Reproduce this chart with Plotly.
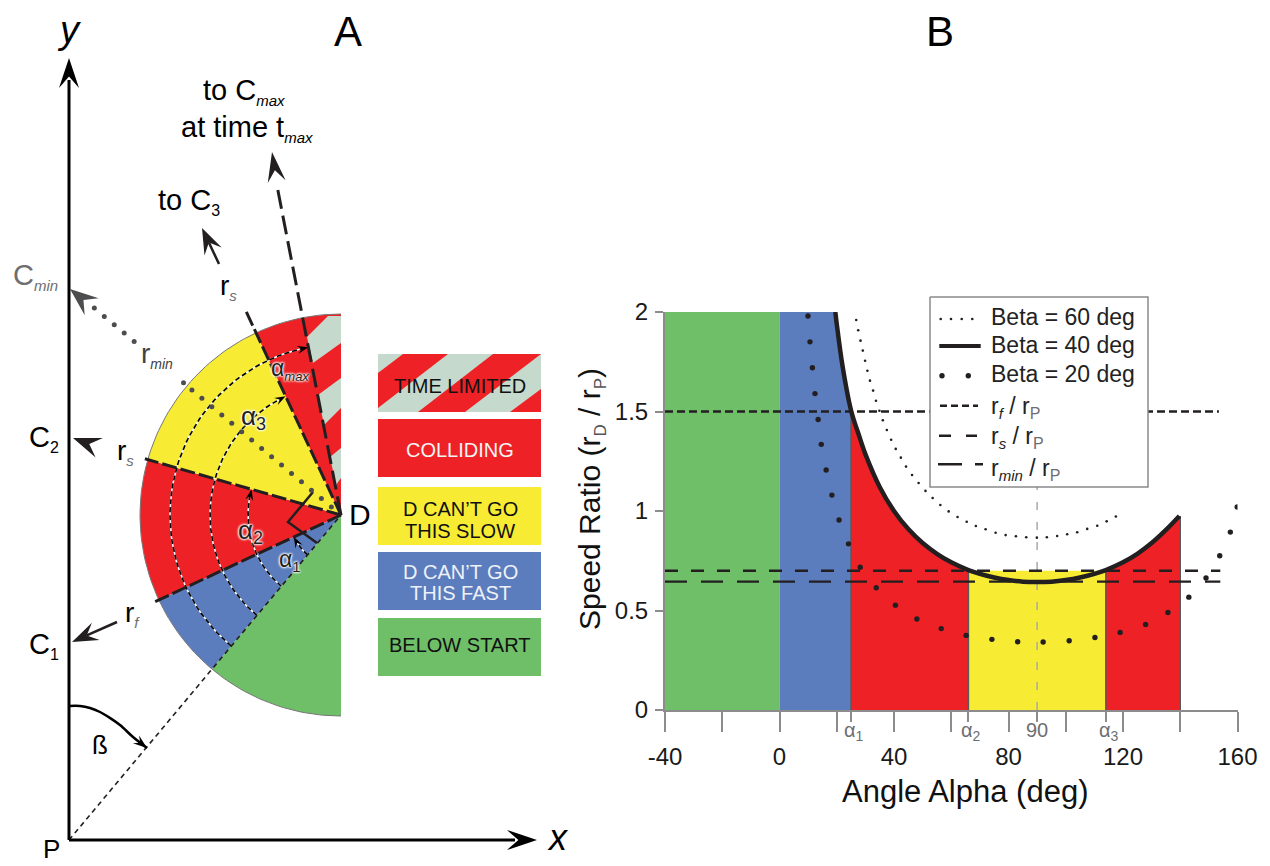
import numpy as np
import plotly.graph_objects as go

# ---------- Panel B data ----------
alpha_beta40 = [19.5, 20, 22, 25, 28, 30, 35, 40, 45, 50, 55, 60, 66, 70, 75, 80, 85, 90,
                95, 100, 105, 110, 114, 120, 125, 130, 135, 139.7]
ratio_beta40 = [2.0, 1.94, 1.73, 1.505, 1.37, 1.286, 1.121, 1.0, 0.909, 0.839, 0.785, 0.742, 0.703, 0.684,
                0.666, 0.653, 0.645, 0.643, 0.645, 0.653, 0.666, 0.684, 0.703, 0.742, 0.785, 0.839, 0.905, 0.975]
alpha_beta60 = [26.8, 27.5, 28.3, 29.1, 29.9, 30.7, 31.6, 32.7, 33.7, 34.9, 36.1, 37.5, 39.0, 40.6, 42.4, 44.2,
                46.3, 48.6, 51.0, 53.5, 56.2, 59.1, 62.2, 65.4, 68.6, 72.0, 75.5, 79.0, 82.6, 86.2, 89.9, 93.4,
                97.0, 100.5, 104.0, 107.5, 111.0, 114.3, 117.5]
ratio_beta60 = [1.96, 1.908, 1.856, 1.806, 1.755, 1.705, 1.655, 1.605, 1.554, 1.504, 1.456, 1.407, 1.358, 1.312,
                1.268, 1.223, 1.181, 1.141, 1.101, 1.065, 1.03, 0.998, 0.97, 0.946, 0.925, 0.908, 0.891, 0.879,
                0.873, 0.868, 0.866, 0.868, 0.874, 0.883, 0.893, 0.91, 0.926, 0.948, 0.972]
alpha_beta20 = [9.95, 10.65, 11.5, 12.4, 13.5, 14.6, 16.3, 18.3, 20.8, 24.1, 28.2, 33.8, 40.5, 48, 56.5, 65.2,
                74.2, 83.2, 92.1, 101.2, 110.2, 119, 127.9, 135.7, 143, 149, 153.8, 157.5, 159.9]
ratio_beta20 = [1.98, 1.85, 1.72, 1.59, 1.46, 1.335, 1.206, 1.08, 0.955, 0.835, 0.717, 0.614, 0.527, 0.457, 0.409,
                0.375, 0.355, 0.343, 0.342, 0.348, 0.364, 0.39, 0.43, 0.49, 0.567, 0.663, 0.775, 0.894, 1.02]
ALPHA_BELOW, ALPHA_ZERO, ALPHA1, ALPHA2, ALPHA3, ALPHA_END = -40, 0, 25, 66, 114, 140
RF, RS, RMIN = 1.5, 0.7, 0.645
x_major_ticks = [-40, -20, 0, 20, 40, 60, 80, 100, 120, 140, 160]
x_major_text = ["-40", " ", "0", " ", "40", " ", "80", " ", "120", " ", "160"]
x_minor_ticks = [25, 66, 90, 114]
y_ticks = [0, 0.5, 1, 1.5, 2]
y_text = ["0", "0.5", "1", "1.5", "2"]

# ---------- Panel A geometry (pixel space of the diagram) ----------
P = (69, 840)
D = (341, 515)
R = 201
BETA = 40
alpha_edges = [-40, 0, 25, 66, 115, 140]     # bearing = 220 + alpha
arc_radii = [52, 93, 131, 171]
arc_end_alpha = [25, 66, 115, 129]
rmin_near = [12.6, 25.6, 38.6, 51.6, 64.6, 77.6, 90.6, 103.6, 116.6, 129.6, 142.6, 155.6, 168.6, 181.6, 194.6, 205.6]
rmin_far = [270, 283, 296, 309, 322]
stripe_1 = ([307, 328, 341, 341, 313], [337, 316, 316, 343, 363])
stripe_2 = ([318, 341, 341, 324], [395, 378, 408, 425])
stripe_3 = ([330, 341, 341, 336], [457, 448, 478, 485])
beta_arc_x = [69, 80, 90, 100, 110, 120, 133, 147]
beta_arc_y = [706, 706, 708, 712, 718, 725, 737, 748]
key_boxes_y = [(354, 412), (419, 477), (487, 545), (552, 610), (618, 676)]
key_x = (378, 541)
key_stripes = [([378, 403, 448, 378], [373, 354, 354, 408]),
               ([418, 493, 541, 465], [412, 354, 354, 412]),
               ([510, 541, 541], [412, 389, 412])]

RED, YELLOW, BLUE, GREEN, PALE = "#EE2226", "#F7EC33", "#5B7DBD", "#6FBE68", "#C5D9CC"
INK, GREY, TICK = "#231F20", "#6D6E71", "#8C8C8C"
FONT = "Liberation Sans"

fig = go.Figure()


def bearing_xy(bearing, r):
    b = np.radians(bearing)
    return D[0] + r * np.sin(b), D[1] - r * np.cos(b)


def alpha_xy(alpha, r):
    return bearing_xy(180 + BETA + alpha, r)


def add(xs, ys, axis="A", **kw):
    ax = {"A": ("x", "y"), "B": ("x2", "y2"), "K": ("x3", "y3")}[axis]
    kw.setdefault("mode", "lines")
    fig.add_trace(go.Scatter(x=list(xs), y=list(ys), xaxis=ax[0], yaxis=ax[1],
                             hoverinfo="skip", showlegend=False, **kw))


def poly(xs, ys, color, axis="A"):
    add(xs, ys, axis, fill="toself", fillcolor=color, line=dict(width=0))


def wedge(a0, a1, color):
    t = np.linspace(a0, a1, 60)
    x, y = alpha_xy(t, R)
    poly([D[0], *x], [D[1], *y], color)


def arrow(tip, tail, length=26, width=19, color=INK, shaft=2.5):
    tip, tail = np.array(tip, float), np.array(tail, float)
    u = (tail - tip) / np.linalg.norm(tail - tip)
    n = np.array([-u[1], u[0]])
    a = tip + u * length + n * width / 2
    b = tip + u * length * 0.62
    c = tip + u * length - n * width / 2
    if shaft:
        add([b[0], tail[0]], [b[1], tail[1]], line=dict(color=color, width=shaft))
    poly([tip[0], a[0], b[0], c[0]], [tip[1], a[1], b[1], c[1]], color)


# ----- Panel A -----
for a0, a1, col in zip(alpha_edges[:-1], alpha_edges[1:], [GREEN, BLUE, RED, YELLOW, RED]):
    wedge(a0, a1, col)
for sx, sy in (stripe_1, stripe_2, stripe_3):
    poly(sx, sy, PALE)
t = np.linspace(-40, 140, 120)
add(*alpha_xy(t, R), line=dict(color="#777777", width=1))

for r, end in zip(arc_radii, arc_end_alpha):
    t = np.linspace(0, end - 2, 60)
    x, y = alpha_xy(t, r)
    add(x, y, line=dict(color="white", width=1.5))
    add(x, y, line=dict(color="black", width=1.6, dash="5px,3px"))
    arrow(alpha_xy(end, r), alpha_xy(end - 6, r), length=11, width=8, color="black", shaft=0)

add([P[0], D[0]], [P[1], D[1]], line=dict(color=INK, width=1.6, dash="5px,4px"))
for al, rad in ((25, 208), (66, 204), (115, 226)):
    ex, ey = alpha_xy(al, rad)
    add([D[0], ex], [D[1], ey], line=dict(color=INK, width=3, dash="15px,4px"))
ex, ey = alpha_xy(129, 334)
add([D[0], ex], [D[1], ey], line=dict(color=INK, width=3, dash="19px,7px"))
add([313, 288, 317], [492, 522, 543], line=dict(color=INK, width=2.5))

for dists in (rmin_near, rmin_far):
    x, y = bearing_xy(310, np.array(dists))
    add(x, y, mode="markers", marker=dict(color="#4D4D4F", size=5))
arrow((70, 289), (92, 307), length=28, width=22, color="#4D4D4F", shaft=0)
arrow((72, 642), (117, 622))
arrow((73, 438), (100, 448), shaft=0, length=28, width=21)
arrow((202, 228), (219, 264))
arrow((272, 152), (278, 190), shaft=0, length=30, width=18)

add([P[0], P[0]], [P[1], 80], line=dict(color="black", width=3))
add([P[0], 515], [P[1], P[1]], line=dict(color="black", width=3))
arrow((69, 58), (69, 90), shaft=0, length=30, width=20, color="black")
arrow((537, 840), (505, 840), shaft=0, length=30, width=20, color="black")
add(beta_arc_x, beta_arc_y, mode="lines", line=dict(color="black", width=2.5, shape="spline"))
arrow((147, 748), (133, 737), length=14, width=10, color="black", shaft=0)

# key of regions
for (y0, y1), col in zip(key_boxes_y, [PALE, RED, YELLOW, BLUE, GREEN]):
    poly([key_x[0], key_x[1], key_x[1], key_x[0]], [y0, y0, y1, y1], col)
for sx, sy in key_stripes:
    poly(sx, sy, RED)

# ----- Panel B -----
poly([ALPHA_BELOW, ALPHA_ZERO, ALPHA_ZERO, ALPHA_BELOW], [0, 0, 2, 2], GREEN, "B")
al40 = np.array(alpha_beta40)
ra40 = np.array(ratio_beta40)
m = al40 <= ALPHA1
poly([0, ALPHA1, *al40[m][::-1], 0], [0, 0, *ra40[m][::-1], 2], BLUE, "B")
m = (al40 >= ALPHA1) & (al40 <= ALPHA2)
poly([ALPHA1, *al40[m], ALPHA2], [0, *ra40[m], 0], RED, "B")
poly([ALPHA2, ALPHA3, ALPHA3, ALPHA2], [0, 0, RS, RS], YELLOW, "B")
m = al40 >= ALPHA3
poly([ALPHA3, *al40[m], ALPHA_END, ALPHA_END], [0, *ra40[m], ra40[-1], 0], RED, "B")
for a, top in ((ALPHA1, 1.5), (ALPHA2, RS), (ALPHA3, RS), (ALPHA_END, ra40[-1])):
    add([a, a], [0, top], "B", line=dict(color="#58595B", width=1.5))
add([90, 90], [0, 1.13], "B", line=dict(color="#A7A9AC", width=1.5, dash="8px,12px"))
add(alpha_beta60, ratio_beta60, "B", mode="markers", marker=dict(color=INK, size=2.6))
add(alpha_beta20, ratio_beta20, "B", mode="markers", marker=dict(color=INK, size=5.4))
add(alpha_beta40, ratio_beta40, "B", line=dict(color=INK, width=4.5, shape="spline"))
add([-40, 153.5], [RF, RF], "B", line=dict(color=INK, width=2.4, dash="8px,4px"))
add([-40, 154], [RS, RS], "B", line=dict(color=INK, width=2.4, dash="13px,13px"))
add([-40, 154], [RMIN, RMIN], "B", line=dict(color=INK, width=2.4, dash="22px,14px"))

# ----- legend box, above panel B -----
poly([930, 1148, 1148, 930], [297, 297, 487, 487], "white", "K")
add([930, 1148, 1148, 930, 930], [297, 297, 487, 487, 297], "K", line=dict(color="#8A8A8A", width=1.5))
add([940.7, 951, 961.7, 972.3], [319] * 4, "K", mode="markers", marker=dict(color=INK, size=2.6))
add([939.3, 980.7], [346, 346], "K", line=dict(color=INK, width=4))
add([942, 968.3], [375.7, 375.7], "K", mode="markers", marker=dict(color=INK, size=5.4))
add([940, 978], [405.7, 405.7], "K", line=dict(color=INK, width=2.4, dash="7px,4px"))
add([939, 977], [435.7, 435.7], "K", line=dict(color=INK, width=2.4, dash="12px,15px"))
add([938, 983], [464.3, 464.3], "K", line=dict(color=INK, width=2.4, dash="24px,13px"))

# ----- Text -----
notes = []


def sub(text, size=15, color=None, italic=True):
    body = f"<i>{text}</i>" if italic else text
    style = f"font-size:{size}px" + (f";color:{color}" if color else "")
    return f'<sub><span style="{style}">{body}</span></sub>'


def txt(text, x, y, size=28, color="black", xref="x", anchor="center", halo=False, angle=0):
    f = dict(family=FONT, size=size, color=color)
    if halo:
        f["shadow"] = "0 0 2px white, 0 0 2px white, 0 0 3px white, 0 0 3px white"
    notes.append(dict(text=text, x=x, y=y, xref=xref, yref="y", showarrow=False, textangle=angle,
                      xanchor=anchor, yanchor="middle", font=f))


txt("A", 348, 31, 42)
txt("B", 940, 31, 42)
txt("<i>y</i>", 69, 30, 38)
txt("<i>x</i>", 558, 837, 36)
txt("P", 51, 849, 26)
txt("D", 360, 514, 30)
txt("ß", 100, 745, 26)
txt("C" + sub("1", 16, italic=False), 44, 645, 29)
txt("C" + sub("2", 16, italic=False), 44, 438, 29)
txt("C" + sub("min", 15), 35, 276, 29, GREY)
txt("to C" + sub("3", 16, italic=False), 189, 201, 29)
txt("to C" + sub("max", 15), 244, 91, 29)
txt("at time t" + sub("max", 15), 247, 128, 29)
txt("r" + sub("s", 15, GREY), 125, 452, 28)
txt("r" + sub("f", 15, GREY), 132, 614, 28)
txt("r" + sub("s", 15, GREY), 228, 287, 28)
txt("r" + sub("min", 14), 157, 355, 28, "#414042")
txt("α" + sub("3", 18, italic=False), 253, 417, 26, INK, halo=True)
txt("α" + sub("2", 18, italic=False), 250, 531, 26, INK, halo=True)
txt("α" + sub("1", 15, italic=False), 290, 560, 23, INK, halo=True)
txt("α" + sub("max", 13), 290, 369, 23, INK, halo=True)
txt("TIME LIMITED", 459.5, 386, 20, "#111111")
txt("COLLIDING", 460, 450, 20, "#F4F4F4")
txt("D CAN’T GO", 460, 509, 20, "#111111")
txt("THIS SLOW", 460, 531, 20, "#111111")
txt("D CAN’T GO", 460, 572, 20, "#EEF1F7")
txt("THIS FAST", 460, 593, 20, "#EEF1F7")
txt("BELOW START", 459.5, 645, 20, "#111111")
for s, y in zip(["Beta = 60 deg", "Beta = 40 deg", "Beta = 20 deg"], [317, 345, 374]):
    txt(s, 988.5, y, 23, "#222222", anchor="left")
r_p = " / r" + sub("P", 16, GREY, italic=False)
txt("r" + sub("f", 15) + r_p, 988.5, 407, 23, "#222222", anchor="left")
txt("r" + sub("s", 15) + r_p, 988.5, 437, 23, "#222222", anchor="left")
txt("r" + sub("min", 15) + r_p, 988.5, 469, 23, "#222222", anchor="left")
txt("α" + sub("1", 14, italic=False), 26, 731, 20, GREY, xref="x2")
txt("α" + sub("2", 14, italic=False), 67, 731, 20, GREY, xref="x2")
txt("90", 90, 730, 20, GREY, xref="x2")
txt("α" + sub("3", 14, italic=False), 115, 731, 20, GREY, xref="x2")
txt("Angle Alpha (deg)", 965, 791, 31, "#111111")
txt("Speed Ratio (r" + sub("D", 17, "#555555", italic=False) + " / r" + sub("P", 17, "#555555", italic=False) + ")",
    591, 499, 30, "#111111", angle=-90)

W, H, OFF = 1254, 858, 8       # page body margin of 8 px
hidden = dict(visible=False, showgrid=False, zeroline=False)
pix_x = dict(range=[OFF, OFF + W], domain=[0, 1], **hidden)
pix_y = dict(range=[OFF + H, OFF], domain=[0, 1], **hidden)
fig.update_layout(
    width=W, height=H, margin=dict(l=0, r=0, t=0, b=0, autoexpand=False), autosize=False,
    paper_bgcolor="white", plot_bgcolor="rgba(0,0,0,0)", showlegend=False,
    font=dict(family=FONT, color="black"), annotations=notes,
    xaxis=dict(anchor="y", **pix_x), yaxis=dict(anchor="x", **pix_y),
    xaxis3=dict(anchor="y3", **pix_x), yaxis3=dict(anchor="x3", **pix_y),
    xaxis2=dict(
        anchor="y2", domain=[(665 - OFF) / W, (1237.5 - OFF) / W], range=[-40, 160],
        showgrid=False, zeroline=False, showline=True, linecolor=TICK, linewidth=2,
        ticks="outside", ticklen=20, tickwidth=2, tickcolor=TICK,
        tickmode="array", tickvals=x_major_ticks, ticktext=x_major_text,
        tickfont=dict(size=24, family=FONT, color="#1a1a1a"), ticklabelstandoff=4,
        minor=dict(ticks="outside", tickmode="array", tickvals=x_minor_ticks, ticklen=10,
                   tickwidth=1.5, tickcolor=TICK, showgrid=False),
    ),
    yaxis2=dict(
        anchor="x2", domain=[(OFF + H - 710) / H, (OFF + H - 312) / H], range=[0, 2],
        showgrid=False, zeroline=False, showline=True, linecolor=TICK, linewidth=2,
        ticks="outside", ticklen=8, tickwidth=2, tickcolor=TICK,
        tickmode="array", tickvals=y_ticks, ticktext=y_text,
        tickfont=dict(size=24, family=FONT, color="#1a1a1a"), ticklabelstandoff=2,
    ),
)
fig.write_html("out.html")
